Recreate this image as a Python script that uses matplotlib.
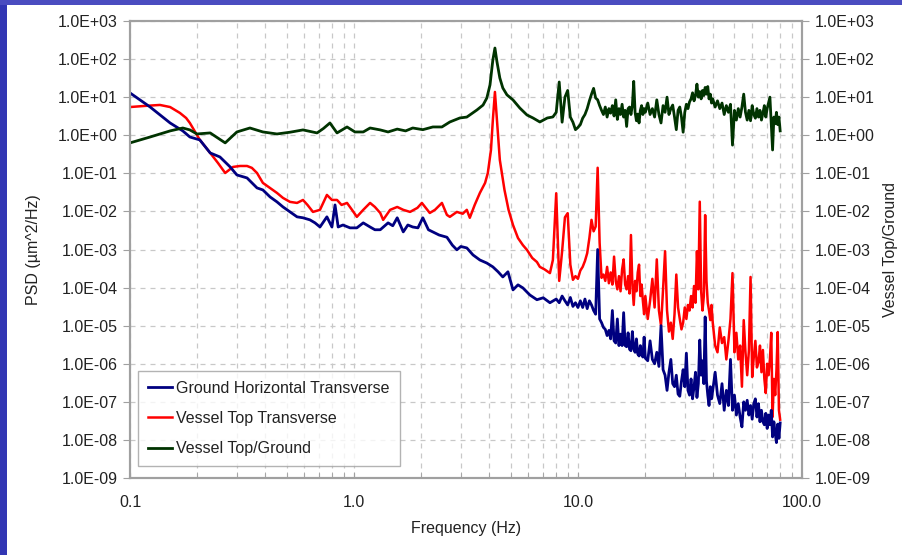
import matplotlib
matplotlib.use("Agg")
import matplotlib.pyplot as plt
from matplotlib.patches import Rectangle
from matplotlib.ticker import FixedLocator, LogLocator, NullFormatter

plt.rcParams['font.family'] = ['Liberation Sans', 'DejaVu Sans']

# ---- data (Hz, PSD) ----
# low / mid frequency part, one list per series
ground_freq = [0.100, 0.123, 0.151, 0.172, 0.185, 0.205, 0.228, 0.252, 0.280, 0.300,
               0.333, 0.369, 0.392, 0.422, 0.453, 0.482, 0.518, 0.557, 0.592, 0.636,
               0.67, 0.705, 0.757, 0.797, 0.823, 0.85, 0.893, 0.96, 1.03, 1.10,
               1.18, 1.24, 1.31, 1.42, 1.49, 1.56, 1.66, 1.74, 1.83, 1.93,
               2.03, 2.15, 2.25, 2.40, 2.60, 2.75, 2.88, 3.00, 3.19, 3.40,
               3.65, 3.92, 4.17, 4.40, 4.62, 4.87, 5.13, 5.40, 5.68, 6.10,
               6.56, 7.00, 7.50]
ground_psd = [12.9, 5.5, 2.1, 1.3, 0.90, 0.753, 0.343, 0.269, 0.147, 0.0907,
              0.0757, 0.0414, 0.0366, 0.0240, 0.0178, 0.0131, 0.0097, 0.0072, 0.0068, 0.0060,
              0.0050, 0.0039, 0.0072, 0.0039, 0.0148, 0.0039, 0.0044, 0.0037, 0.0037, 0.0050,
              0.0039, 0.0033, 0.0033, 0.0050, 0.0042, 0.0068, 0.0029, 0.0044, 0.0039, 0.0037,
              0.0068, 0.0033, 0.0029, 0.0024, 0.0021, 0.0013, 9.8e-4, 1.2e-3, 1.1e-3, 7.2e-4,
              5.3e-4, 4.4e-4, 3.5e-4, 2.6e-4, 1.9e-4, 2.6e-4, 8.7e-5, 1.18e-4, 9.8e-5, 6.4e-5,
              4.8e-5, 5.4e-5, 4.0e-5]

vessel_freq = [0.100, 0.117, 0.136, 0.151, 0.167, 0.178, 0.185, 0.205, 0.228, 0.247,
               0.266, 0.288, 0.310, 0.333, 0.350, 0.369, 0.392, 0.422, 0.453, 0.482,
               0.518, 0.557, 0.592, 0.62, 0.656, 0.705, 0.757, 0.797, 0.840, 0.88,
               0.931, 0.98, 1.03, 1.10, 1.18, 1.24, 1.31, 1.35, 1.45, 1.56,
               1.66, 1.78, 1.92, 2.01, 2.18, 2.30, 2.47, 2.60, 2.68, 2.88,
               3.06, 3.19, 3.29, 3.46, 3.65, 3.85, 3.96, 4.09, 4.17, 4.26,
               4.35, 4.48, 4.70, 4.90, 5.13, 5.40, 5.68, 5.92, 6.25, 6.56,
               6.76, 7.10, 7.50, 7.73]
vessel_psd = [5.5, 5.9, 6.24, 5.5, 3.85, 2.84, 2.1, 0.753, 0.343, 0.187,
              0.102, 0.147, 0.156, 0.156, 0.139, 0.102, 0.056, 0.041, 0.0306, 0.0226,
              0.0178, 0.0167, 0.020, 0.0148, 0.0097, 0.011, 0.0271, 0.020, 0.020, 0.0148,
              0.0167, 0.011, 0.0072, 0.011, 0.0167, 0.0131, 0.0091, 0.006, 0.011, 0.0131,
              0.011, 0.0097, 0.0124, 0.0167, 0.0091, 0.011, 0.0167, 0.0081, 0.0072, 0.0097,
              0.0087, 0.011, 0.0068, 0.0148, 0.0306, 0.056, 0.102, 0.41, 2.52, 13.7,
              2.52, 0.225, 0.0366, 0.011, 0.0044, 0.002, 0.0013, 9.8e-4, 6.0e-4, 4.7e-4,
              3.5e-4, 3.0e-4, 2.4e-4, 5.3e-4]

ratio_freq = [0.100, 0.123, 0.151, 0.172, 0.185, 0.199, 0.228, 0.266, 0.300, 0.343,
              0.392, 0.453, 0.518, 0.592, 0.684, 0.73, 0.781, 0.840, 0.931, 1.01,
              1.10, 1.18, 1.31, 1.42, 1.56, 1.70, 1.83, 2.03, 2.25, 2.47,
              2.68, 2.97, 3.19, 3.54, 3.77, 3.92, 4.05, 4.17, 4.26, 4.35,
              4.48, 4.62, 4.82, 5.13, 5.50, 5.92, 6.30, 6.76, 7.30, 7.73]
ratio_val = [0.63, 0.90, 1.3, 1.55, 1.38, 1.08, 1.15, 0.63, 1.22, 1.55,
             1.22, 1.08, 1.2, 1.38, 1.15, 1.5, 2.1, 1.15, 1.65, 1.22,
             1.22, 1.55, 1.38, 1.22, 1.45, 1.3, 1.55, 1.4, 1.65, 1.65,
             2.23, 2.84, 3.0, 4.61, 6.2, 9.5, 21.0, 95.0, 195.0, 85.0,
             31.9, 17.4, 11.5, 8.45, 5.2, 3.41, 2.84, 2.23, 2.84, 3.02]

# high frequency part (8-80 Hz), shared frequency bins
hf_freq = [8.0, 8.25, 8.5, 8.75, 9.0, 9.25, 9.5, 9.75, 10.0, 10.25,
           10.5, 10.75, 11.0, 11.25, 11.5, 11.75, 12.0, 12.25, 12.5, 12.75,
           13.0, 13.25, 13.5, 13.75, 14.0, 14.25, 14.5, 14.75, 15.0, 15.25,
           15.5, 15.75, 16.0, 16.25, 16.5, 16.75, 17.0, 17.25, 17.5, 17.75,
           18.0, 18.25, 18.5, 18.75, 19.0, 19.25, 19.5, 19.75, 20.0,
           20.5, 21.0, 21.5, 22.0, 22.5, 23.0, 23.5, 24.0, 24.5, 25.0,
           25.5, 26.0, 26.5, 27.0, 27.5, 28.0, 28.5, 29.0, 29.5, 30.0,
           30.5, 31.0, 31.5, 32.0, 32.5, 33.0, 33.5, 34.0, 34.5, 35.0,
           35.5, 36.0, 36.5, 37.0, 37.5, 38.0, 38.5, 39.0, 39.5, 40.0,
           41, 42, 43, 44, 45, 46, 47, 48, 49, 50,
           51, 52, 53, 54, 55, 56, 57, 58, 59, 60,
           61, 62, 63, 64, 65, 66, 67, 68, 69, 70,
           71, 72, 73, 74, 75, 76, 77, 78, 79, 80]
hf_ratio = [4.0, 25, 2.2, 10, 15, 3.0, 2.2, 1.4, 1.6, 1.9,
            2.8, 3.5, 5.0, 8.0, 12, 17, 9.5, 8.5, 6.0, 4.5,
            3.5, 5.5, 3.0, 5.0, 3.8, 6.0, 3.2, 8.5, 2.6, 5.0,
            3.5, 6.5, 3.0, 4.5, 1.7, 5.0, 5.5, 3.5, 6.0, 26,
            4.0, 2.4, 3.6, 2.1, 4.5, 6.0, 3.5, 5.0, 4.0,
            7.0, 3.5, 5.0, 3.0, 8.5, 3.5, 2.1, 6.0, 4.0, 10,
            3.5, 5.0, 6.2, 3.0, 1.4, 4.5, 5.5, 3.0, 1.2, 4.0,
            6.5, 5.0, 7.5, 9.0, 13, 8.0, 11, 22, 10, 14,
            9.0, 15, 11, 18, 12, 19, 9.0, 12, 7.0, 9.0,
            5.5, 8.0, 5.0, 7.0, 3.5, 6.0, 4.0, 6.5, 0.55, 4.5,
            2.5, 5.0, 3.0, 5.5, 12, 4.0, 2.5, 4.5, 2.4, 6.0,
            3.5, 2.8, 5.0, 3.0, 4.5, 2.5, 3.8, 6.0, 3.0, 5.0,
            7.0, 10, 1.9, 0.41, 3.0, 2.0, 4.0, 1.9, 3.0, 1.3]
hf_ground = [5.0e-5, 4.0e-5, 6.0e-5, 4.5e-5, 3.5e-5, 5.5e-5, 3.2e-5, 4.0e-5, 3.0e-5, 4.5e-5,
             3.0e-5, 5.0e-5, 2.8e-5, 4.5e-5, 3.5e-5, 2.5e-5, 2.0e-5, 1.0e-3, 1.5e-5, 1.2e-5,
             9.0e-6, 8.0e-6, 5.5e-6, 7.5e-6, 4.5e-6, 2.5e-5, 4.0e-6, 3.5e-6, 1.5e-5, 3.0e-6,
             6.0e-6, 3.0e-6, 2.2e-5, 3.0e-6, 2.8e-6, 6.5e-6, 2.4e-6, 2.2e-6, 7.0e-6, 2.5e-6,
             2.0e-6, 4.5e-6, 1.8e-6, 1.6e-6, 3.0e-6, 1.7e-6, 1.5e-6, 5.0e-6, 1.4e-6,
             1.2e-6, 4.0e-6, 1.3e-6, 1.0e-6, 2.0e-6, 8.5e-7, 1.0e-5, 7.0e-7, 5.0e-7, 2.0e-7,
             6.0e-7, 1.3e-6, 3.0e-7, 2.5e-7, 5.0e-7, 1.6e-7, 1.4e-7, 3.5e-7, 7.0e-7, 2.5e-7,
             1.9e-6, 2.0e-7, 1.5e-7, 4.0e-7, 1.2e-7, 2.5e-7, 6.0e-7, 1.3e-7, 3.0e-7, 4.2e-6,
             5.0e-7, 1.2e-6, 3.0e-7, 1.7e-5, 3.5e-7, 1.5e-7, 8.0e-8, 2.5e-7, 1.2e-7, 2.0e-7,
             6.0e-7, 1.5e-7, 9.0e-8, 3.0e-7, 6.0e-8, 2.0e-7, 8.0e-8, 1.3e-6, 6.0e-8, 1.5e-7,
             4.5e-8, 9.0e-8, 4.0e-8, 2.2e-8, 1.0e-7, 6.0e-8, 1.1e-7, 4.5e-8, 8.0e-8, 3.5e-8,
             9.0e-8, 1.2e-7, 4.0e-8, 9.0e-8, 3.0e-8, 6.0e-8, 3.0e-8, 2.5e-8, 5.0e-8, 2.0e-8,
             4.5e-8, 2.5e-8, 6.0e-8, 1.2e-8, 3.0e-8, 1.5e-8, 8.5e-9, 2.6e-8, 1.1e-8, 2.8e-8]
hf_vessel = [3.0e-2, 1.5e-4, 9.0e-4, 7.0e-3, 9.0e-3, 4.0e-4, 1.6e-4, 2.0e-4, 1.7e-4, 2.8e-4,
             3.5e-4, 5.0e-4, 8.0e-4, 2.0e-3, 6.0e-3, 3.0e-3, 4.0e-3, 1.4e-1, 1.5e-3, 1.8e-4,
             2.2e-4, 1.5e-4, 3.5e-4, 1.3e-4, 2.5e-4, 1.2e-4, 6.5e-4, 1.5e-4, 9.0e-5, 2.0e-4,
             8.0e-5, 3.0e-4, 5.5e-4, 1.2e-4, 9.0e-5, 2.0e-4, 7.0e-5, 2.4e-3, 1.2e-4, 3.5e-5,
             1.5e-4, 8.0e-5, 2.5e-4, 4.0e-4, 6.0e-5, 1.2e-4, 4.5e-5, 2.0e-5, 6.0e-5,
             1.5e-5, 4.5e-5, 1.7e-4, 3.0e-5, 5.5e-4, 2.5e-5, 1.0e-5, 9.0e-5, 9.0e-4, 2.5e-5,
             7.0e-6, 1.2e-5, 4.5e-6, 2.0e-5, 2.2e-4, 3.0e-5, 1.5e-5, 8.0e-6, 1.2e-5, 3.0e-5,
             1.5e-5, 3.5e-5, 2.5e-5, 6.0e-5, 3.0e-5, 1.1e-4, 4.0e-5, 9.0e-4, 9.0e-5, 1.8e-2,
             8.0e-5, 2.5e-5, 6.0e-5, 8.0e-3, 1.5e-4, 4.0e-5, 2.5e-5, 1.4e-5, 3.5e-5, 1.2e-5,
             3.0e-6, 2.0e-6, 9.0e-6, 3.5e-6, 5.0e-6, 1.3e-6, 4.0e-6, 1.5e-5, 2.4e-4, 2.0e-6,
             6.5e-6, 1.3e-6, 3.0e-6, 2.5e-7, 1.4e-5, 2.0e-6, 5.0e-7, 2.2e-6, 1.9e-4, 4.5e-7,
             1.5e-6, 4.0e-6, 8.0e-7, 1.1e-6, 3.0e-6, 6.0e-7, 2.3e-6, 4.0e-7, 1.7e-7, 1.0e-6,
             5.0e-7, 1.3e-6, 6.5e-6, 4.0e-8, 4.0e-7, 1.5e-7, 6.5e-7, 6.8e-6, 6.0e-8, 3.4e-8]

y_ticks = [1e-9, 1e-8, 1e-7, 1e-6, 1e-5, 1e-4, 1e-3, 1e-2, 1e-1, 1e0, 1e1, 1e2, 1e3]
y_labels = ["1.0E-09", "1.0E-08", "1.0E-07", "1.0E-06", "1.0E-05", "1.0E-04", "1.0E-03",
            "1.0E-02", "1.0E-01", "1.0E+00", "1.0E+01", "1.0E+02", "1.0E+03"]
x_ticks = [0.1, 1.0, 10.0, 100.0]
x_labels = ["0.1", "1.0", "10.0", "100.0"]

# ---- figure ----
fig = plt.figure(figsize=(9.03, 5.55), dpi=100)
fig.patch.set_facecolor("white")
# slide background strips
fig.patches.append(Rectangle((0, 0), 0.008, 1, transform=fig.transFigure,
                             facecolor="#3236b4", edgecolor="none", zorder=0))
fig.patches.append(Rectangle((0, 0.991), 1, 0.009, transform=fig.transFigure,
                             facecolor="#4a4cc0", edgecolor="none", zorder=0))

ax = fig.add_axes([0.144, 0.1387, 0.744, 0.8235])
ax2 = ax.twinx()

l2, = ax.plot(vessel_freq + hf_freq, vessel_psd + hf_vessel, color="#ff0000", lw=1.8,
              zorder=2, label="Vessel Top Transverse")
l1, = ax.plot(ground_freq + hf_freq, ground_psd + hf_ground, color="#000080", lw=2.0,
              zorder=3, label="Ground Horizontal Transverse")
l3, = ax2.plot(ratio_freq + hf_freq, ratio_val + hf_ratio, color="#003300", lw=2.0,
               label="Vessel Top/Ground")

for a in (ax, ax2):
    a.set_xscale("log")
    a.set_yscale("log")
    a.set_xlim(0.1, 100)
    a.set_ylim(1e-9, 1e3)
    a.yaxis.set_major_locator(FixedLocator(y_ticks))
    a.yaxis.set_minor_locator(FixedLocator([]))
    a.set_yticklabels(y_labels, fontsize=11.5, color="#222222")
    for s in a.spines.values():
        s.set_color("#a0a0a0")
        s.set_linewidth(1.5)

ax.set_xticks(x_ticks)
ax.set_xticklabels(x_labels, fontsize=11.5, color="#222222")
ax.xaxis.set_minor_locator(LogLocator(base=10, subs=range(2, 10)))
ax.xaxis.set_minor_formatter(NullFormatter())
ax.tick_params(axis="x", which="both", direction="in", length=4, color="#a0a0a0", pad=12)
ax.tick_params(axis="y", which="major", direction="out", length=5, color="#a0a0a0", pad=4)
ax2.tick_params(axis="y", which="major", direction="out", length=5, color="#a0a0a0", pad=4)

ax.grid(True, which="major", axis="y", linestyle=(0, (4, 4)), color="#c8c8c8", lw=0.9)
ax.grid(True, which="both", axis="x", linestyle=(0, (4, 4)), color="#c8c8c8", lw=0.9)
ax.set_axisbelow(True)

ax.set_xlabel("Frequency (Hz)", fontsize=11.5, color="#222222", labelpad=8)
ax.set_ylabel("PSD (µm^2/Hz)", fontsize=11.5, color="#222222", labelpad=12)
ax2.set_ylabel("Vessel Top/Ground", fontsize=11.5, color="#222222", labelpad=6)

leg = ax2.legend(handles=[l1, l2, l3], loc="lower left", bbox_to_anchor=(0.012, 0.027),
                 borderaxespad=0, fontsize=11.5, frameon=True, fancybox=False,
                 handlelength=1.5, handletextpad=0.3, labelspacing=0.95,
                 borderpad=0.6)
leg.get_frame().set_edgecolor("#a0a0a0")
leg.get_frame().set_linewidth(1.0)
for t in leg.get_texts():
    t.set_color("#222222")

fig.savefig("out.png", dpi=100, facecolor=fig.get_facecolor())
